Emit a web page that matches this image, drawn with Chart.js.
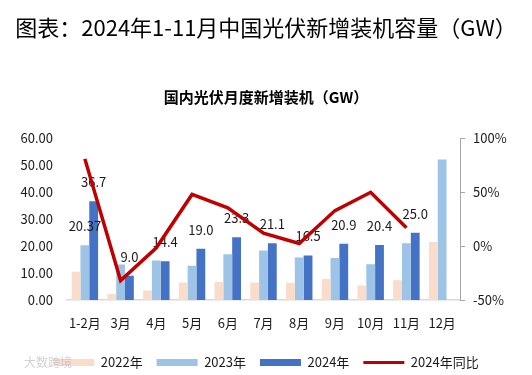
<!DOCTYPE html>
<html lang="zh-CN">
<head>
  <meta charset="UTF-8" />
  <title>2024年1-11月中国光伏新增装机容量</title>
  <script src="https://cdn.jsdelivr.net/npm/chart.js"></script>
  <style>
    body { margin: 0; background: #fff; }
    .wrap { width: 532px; height: 375px; position: relative; }
  </style>
</head>
<body>
  <div class="wrap"><canvas id="grafico" width="532" height="375"></canvas></div>

  <script>
    const meses = ["1-2月", "3月", "4月", "5月", "6月", "7月", "8月", "9月", "10月", "11月", "12月"];
    const anos2022 = [10.5, 2.2, 3.5, 6.5, 6.8, 6.5, 6.4, 7.8, 5.4, 7.3, 21.5];
    const anos2023 = [20.37, 13.2, 14.7, 12.7, 17.0, 18.4, 15.8, 15.6, 13.3, 21.1, 52.2];
    const anos2024 = [36.7, 9.0, 14.4, 19.0, 23.3, 21.1, 16.5, 20.9, 20.4, 25.0, null];
    const yoy2024 = [81, -32, -1.5, 48, 35.5, 12, 2.5, 33, 50, 17, null];

    const fonte = '"Microsoft YaHei", "Noto Sans CJK SC", sans-serif';
    const corTexto = "#1a1a1a";
    const cores = { a2022: "#FADCCB", a2023: "#9DC3E6", a2024: "#4472C4", linha: "#C00000" };

    // rótulos de valor: 2024 em cima das barras, e o 20.37 de 2023
    const rotulos = {
      id: "rotulos",
      afterDatasetDraw(chart, args) {
        if (args.index !== 0) return;
        const ctx = chart.ctx;
        ctx.save();
        ctx.font = "13px " + fonte;
        ctx.fillStyle = corTexto;
        ctx.textAlign = "center";
        ctx.textBaseline = "middle";
        chart.getDatasetMeta(2).data.forEach((bar, i) => {
          if (anos2024[i] == null) return;
          ctx.fillText(anos2024[i].toFixed(1), bar.x, bar.y - 19);
        });
        const b = chart.getDatasetMeta(1).data[0];
        ctx.fillText(anos2023[0].toFixed(2), b.x, b.y - 19);
        ctx.restore();
      }
    };

    const marcaDagua = {
      id: "marcaDagua",
      afterDraw(chart) {
        const ctx = chart.ctx;
        ctx.save();
        ctx.font = "12px " + fonte;
        ctx.fillStyle = "rgba(190,190,190,0.7)";
        ctx.textBaseline = "middle";
        ctx.fillText("大数跨境", 24, 362);
        ctx.restore();
      }
    };

    new Chart(document.getElementById("grafico"), {
      type: "bar",
      data: {
        labels: meses,
        datasets: [
          { label: "2022年", data: anos2022, backgroundColor: cores.a2022, yAxisID: "y", order: 1,
            categoryPercentage: 0.74, barPercentage: 1.0 },
          { label: "2023年", data: anos2023, backgroundColor: cores.a2023, yAxisID: "y", order: 1,
            categoryPercentage: 0.74, barPercentage: 1.0 },
          { label: "2024年", data: anos2024, backgroundColor: cores.a2024, yAxisID: "y", order: 1,
            categoryPercentage: 0.74, barPercentage: 1.0 },
          { label: "2024年同比", type: "line", data: yoy2024, borderColor: cores.linha, borderWidth: 3.5,
            pointRadius: 0, tension: 0, yAxisID: "y1", order: 0, spanGaps: false }
        ]
      },
      options: {
        responsive: false,
        animation: false,
        layout: { padding: { left: 0, right: 0, top: 0, bottom: -4 } },
        plugins: {
          title: {
            display: true,
            text: "图表：2024年1-11月中国光伏新增装机容量（GW）",
            color: "#000",
            font: { family: fonte, size: 22, weight: "normal" },
            padding: { top: 14, bottom: 48 }
          },
          subtitle: {
            display: true,
            text: "国内光伏月度新增装机（GW）",
            color: "#000",
            font: { family: fonte, size: 15, weight: "bold" },
            padding: { top: 0, bottom: 32 }
          },
          legend: {
            position: "bottom",
            labels: {
              color: corTexto,
              font: { family: fonte, size: 13 },
              usePointStyle: true,
              pointStyleWidth: 41,
              boxHeight: 7,
              padding: 14,
              generateLabels: chart => chart.data.datasets.map((ds, i) => ({
                text: ds.label,
                datasetIndex: i,
                fillStyle: ds.type === "line" ? ds.borderColor : ds.backgroundColor,
                strokeStyle: ds.type === "line" ? ds.borderColor : ds.backgroundColor,
                lineWidth: ds.type === "line" ? 3 : 0,
                pointStyle: ds.type === "line" ? "line" : "rect",
                fontColor: corTexto
              }))
            }
          },
          tooltip: { enabled: false }
        },
        scales: {
          x: {
            grid: { display: false, drawTicks: false },
            border: { display: true, color: "#d9d9d9", width: 1.5 },
            ticks: { color: corTexto, font: { family: fonte, size: 13 }, padding: 15, maxRotation: 0 },
            afterFit: s => { s.height = 42; }
          },
          y: {
            position: "left",
            min: 0, max: 60,
            grid: { display: false, drawTicks: false },
            border: { display: false },
            ticks: { stepSize: 10, color: corTexto, font: { family: fonte, size: 13 }, padding: 14,
              callback: v => v.toFixed(2) },
            afterFit: s => { s.width = 67; }
          },
          y1: {
            position: "right",
            min: -50, max: 100,
            grid: { drawOnChartArea: false, drawTicks: true, tickLength: 5, color: "#a6a6a6" },
            border: { display: true, color: "#a6a6a6" },
            ticks: { stepSize: 50, color: corTexto, font: { family: fonte, size: 13 }, padding: 8,
              callback: v => v + "%" },
            afterFit: s => { s.width = 72; }
          }
        }
      },
      plugins: [rotulos, marcaDagua]
    });
  </script>
</body>
</html>
